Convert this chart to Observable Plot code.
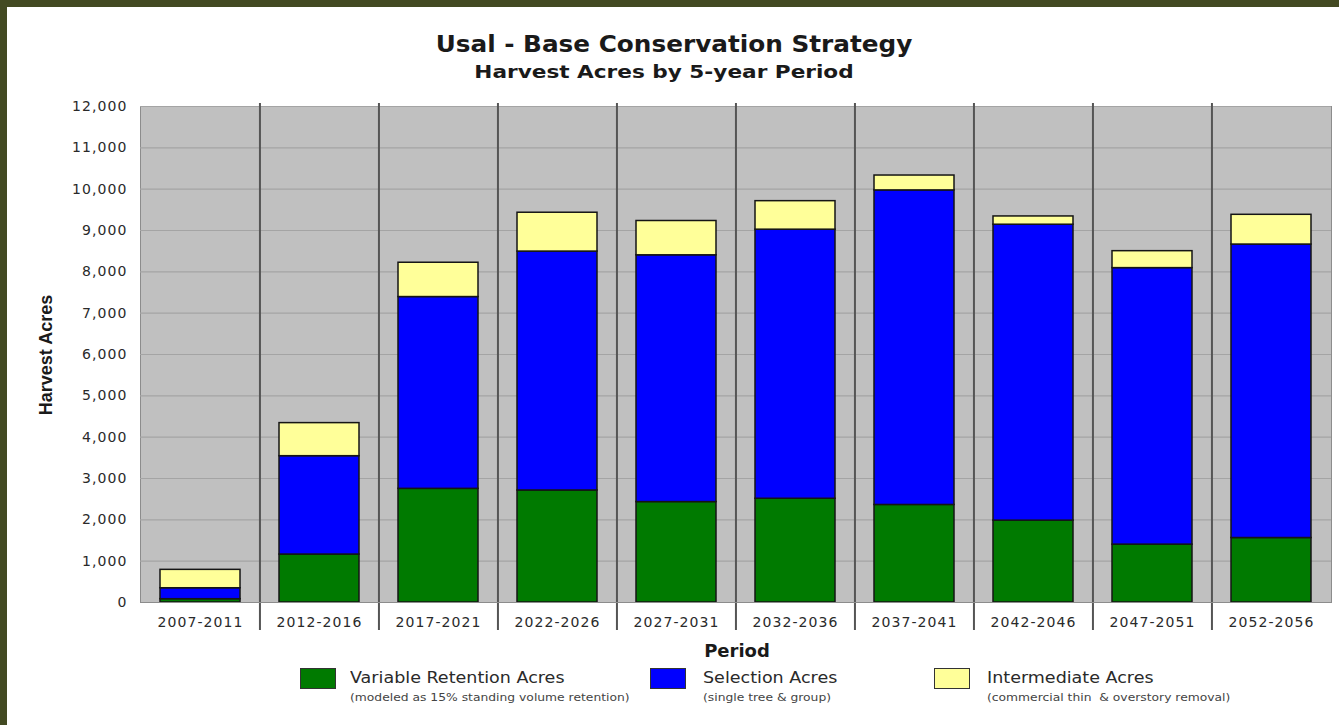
<!DOCTYPE html>
<html>
<head>
<meta charset="utf-8">
<script src="https://cdn.jsdelivr.net/npm/d3@7"></script>
<script src="https://cdn.jsdelivr.net/npm/@observablehq/plot@0.6"></script>
<style>
  html, body { margin: 0; padding: 0; background: #ffffff; }
  #page { position: relative; width: 1339px; height: 725px; overflow: hidden; background: #ffffff; }
  #borderTop { position: absolute; left: 0; top: 0; width: 1339px; height: 7px; background: #434a22; }
  #borderLeft { position: absolute; left: 0; top: 0; width: 7px; height: 725px; background: #434a22; }
  .t { position: absolute; white-space: nowrap; color: #1a1a1a; }
  #title { font: bold 23px "DejaVu Sans"; left: 674px; top: 31px; transform: translateX(-50%) scaleX(1.075); }
  #subtitle { font: bold 18px "DejaVu Sans"; left: 664px; top: 61px; transform: translateX(-50%) scaleX(1.2); }
  #ylabel { font: bold 18px "Liberation Sans Narrow", "Liberation Sans"; left: 46px; top: 355px; transform: translate(-50%, -50%) rotate(-90deg); }
  #xlabel { font: bold 18px "DejaVu Sans"; left: 737px; top: 640px; transform: translateX(-50%); }
  #chart { position: absolute; left: 0; top: 96px; }
  .sw { position: absolute; width: 36px; height: 21px; border: 1px solid #333; box-sizing: border-box; }
  .lt { position: absolute; font: 15.5px "DejaVu Sans"; color: #2a2a2a; white-space: pre; transform-origin: 0 50%; transform: scaleX(1.13); }
  .ln { position: absolute; font: 11px "DejaVu Sans"; color: #444; white-space: pre; transform-origin: 0 50%; transform: scaleX(1.12); }
</style>
</head>
<body>
<div id="page">
  <div id="borderTop"></div>
  <div id="borderLeft"></div>
  <div id="title" class="t">Usal - Base Conservation Strategy</div>
  <div id="subtitle" class="t">Harvest Acres by 5-year Period</div>
  <div id="ylabel" class="t">Harvest Acres</div>
  <div id="chart"></div>
  <div id="xlabel" class="t">Period</div>
  <div id="legend"></div>
</div>
<script>
// ---- data ----
const periods = ["2007-2011","2012-2016","2017-2021","2022-2026","2027-2031","2032-2036","2037-2041","2042-2046","2047-2051","2052-2056"];
const variableRetention = [80, 1160, 2750, 2710, 2430, 2510, 2360, 1980, 1400, 1560];
const selection = [265, 2380, 4640, 5780, 5970, 6510, 7610, 7160, 6690, 7100];
const intermediate = [445, 800, 830, 940, 830, 690, 360, 200, 410, 720];
const seriesNames = ["Variable Retention Acres", "Selection Acres", "Intermediate Acres"];
const seriesNotes = ["(modeled as 15% standing volume retention)", "(single tree & group)", "(commercial thin  & overstory removal)"];
const seriesColors = ["#007a00", "#0000ff", "#ffff99"];
const yTicks = [0, 1000, 2000, 3000, 4000, 5000, 6000, 7000, 8000, 9000, 10000, 11000, 12000];

// ---- build table ----
const seriesValues = [variableRetention, selection, intermediate];
const data = [];
periods.forEach((p, i) => {
  seriesNames.forEach((s, k) => data.push({period: p, series: s, value: seriesValues[k][i]}));
});

// ---- layout ----
const W = 1339, H = 540, mL = 140, mR = 8, mT = 10, mB = 34;
const step = (W - mL - mR) / periods.length;

const chart = Plot.plot({
  width: W, height: H,
  marginTop: mT, marginBottom: mB, marginLeft: mL, marginRight: mR,
  style: {fontFamily: "DejaVu Sans", fontSize: "14px", color: "#2a2a2a", background: "transparent", overflow: "visible", letterSpacing: "1.1px"},
  x: {domain: periods, paddingInner: 0.33, paddingOuter: 0.165},
  y: {domain: [0, 12000]},
  color: {domain: seriesNames, range: seriesColors},
  marks: [
    Plot.frame({fill: "#c0c0c0", stroke: "#8c8c8c"}),
    Plot.gridY(yTicks, {stroke: "#a4a4a4", strokeOpacity: 1, strokeWidth: 1.2}),
    Plot.ruleX(periods.slice(1), {x: d => d, dx: -step / 2, stroke: "#555", strokeWidth: 2, insetTop: -3, insetBottom: -28}),
    Plot.barY(data, {x: "period", y: "value", fill: "series", stroke: "#151515", strokeWidth: 1.5}),
    Plot.ruleY([0], {stroke: "#8c8c8c"}),
    Plot.axisY(yTicks, {tickSize: 0, tickPadding: 13, tickFormat: d3.format(","), label: null, fill: "#2a2a2a"}),
    Plot.axisX({tickSize: 0, tickPadding: 15, label: null, fill: "#2a2a2a"})
  ]
});
document.getElementById("chart").appendChild(chart);

// ---- legend ----
const legend = document.getElementById("legend");
const swX = [300, 650, 934];
const txX = [350, 703, 987];
seriesNames.forEach((name, k) => {
  const sw = document.createElement("div");
  sw.className = "sw";
  sw.style.left = swX[k] + "px";
  sw.style.top = "668px";
  sw.style.background = seriesColors[k];
  legend.appendChild(sw);
  const lt = document.createElement("div");
  lt.className = "lt";
  lt.textContent = name;
  lt.style.left = txX[k] + "px";
  lt.style.top = "669px";
  legend.appendChild(lt);
  const ln = document.createElement("div");
  ln.className = "ln";
  ln.textContent = seriesNotes[k];
  ln.style.left = txX[k] + "px";
  ln.style.top = "691px";
  legend.appendChild(ln);
});
</script>
</body>
</html>
